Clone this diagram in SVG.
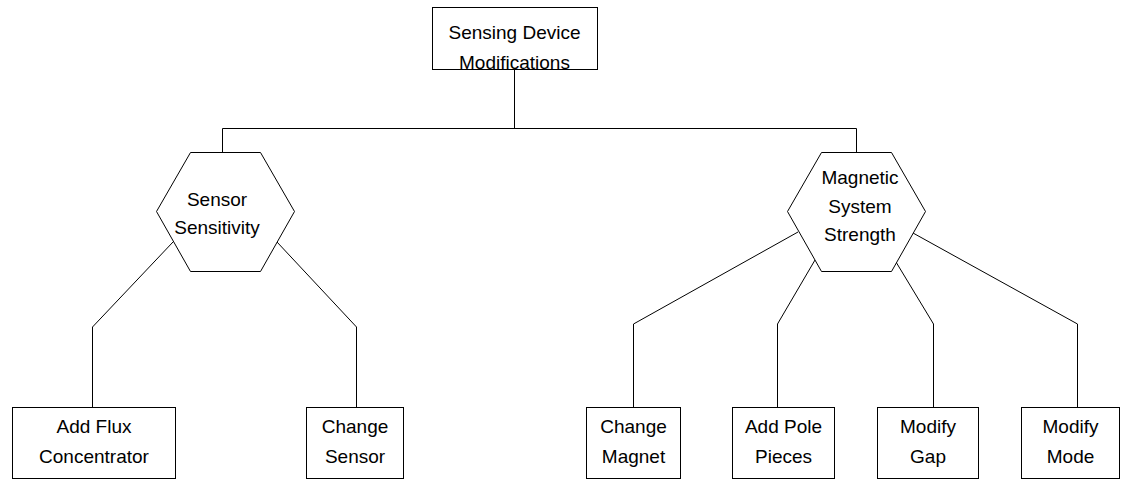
<svg xmlns="http://www.w3.org/2000/svg" width="1128" height="481" viewBox="0 0 1128 481">
<style>
.box{fill:#fff;stroke:#000;stroke-width:1}
.hex{fill:#fff;stroke:#000;stroke-width:1}
.conn{fill:none;stroke:#000;stroke-width:1}
text{font-family:"Liberation Sans",Arial,sans-serif;font-size:19px;fill:#000;text-anchor:middle}
</style>
<rect width="1128" height="481" fill="#fff"/>
<g id="connectors">
<path class="conn" d="M514.5,69 V128.5 M222.5,128.5 H856.5 M222.5,128.5 V152 M856.5,128.5 V152"/>
<path class="conn" d="M173,242 L92.5,327 V407 M277,242 L356.5,327 V407"/>
<path class="conn" d="M798,232 L633.5,324 V407 M815,260 L777.5,324 V407 M896,262 L933.5,324 V407 M913,233 L1077.5,324 V407"/>
</g>
<g id="root">
<rect class="box" x="432.5" y="7.5" width="165" height="62"/>
<text x="514.5" y="39">Sensing Device</text>
<text x="514.5" y="69">Modifications</text>
</g>
<g id="sensor-sensitivity">
<polygon class="hex" points="190.5,152.5 260.5,152.5 294.5,211.5 260.5,271.5 190.5,271.5 156.5,211.5"/>
<text x="217" y="206">Sensor</text>
<text x="217" y="234">Sensitivity</text>
</g>
<g id="magnetic-system-strength">
<polygon class="hex" points="821.5,152.5 891.5,152.5 925.5,211.5 891.5,271.5 821.5,271.5 787.5,211.5"/>
<text x="860" y="184">Magnetic</text>
<text x="860" y="213">System</text>
<text x="860" y="241">Strength</text>
</g>
<g id="add-flux">
<rect class="box" x="12.5" y="407.5" width="163" height="71"/>
<text x="94" y="433">Add Flux</text>
<text x="94" y="462.5">Concentrator</text>
</g>
<g id="change-sensor">
<rect class="box" x="306.5" y="407.5" width="97" height="71"/>
<text x="355" y="433">Change</text>
<text x="355" y="462.5">Sensor</text>
</g>
<g id="change-magnet">
<rect class="box" x="586.5" y="407.5" width="94" height="71"/>
<text x="633.5" y="433">Change</text>
<text x="633.5" y="462.5">Magnet</text>
</g>
<g id="add-pole-pieces">
<rect class="box" x="732.5" y="407.5" width="102" height="71"/>
<text x="783.5" y="433">Add Pole</text>
<text x="783.5" y="462.5">Pieces</text>
</g>
<g id="modify-gap">
<rect class="box" x="877.5" y="407.5" width="101" height="71"/>
<text x="928" y="433">Modify</text>
<text x="928" y="462.5">Gap</text>
</g>
<g id="modify-mode">
<rect class="box" x="1021.5" y="407.5" width="98" height="71"/>
<text x="1070.5" y="433">Modify</text>
<text x="1070.5" y="462.5">Mode</text>
</g>
</svg>
